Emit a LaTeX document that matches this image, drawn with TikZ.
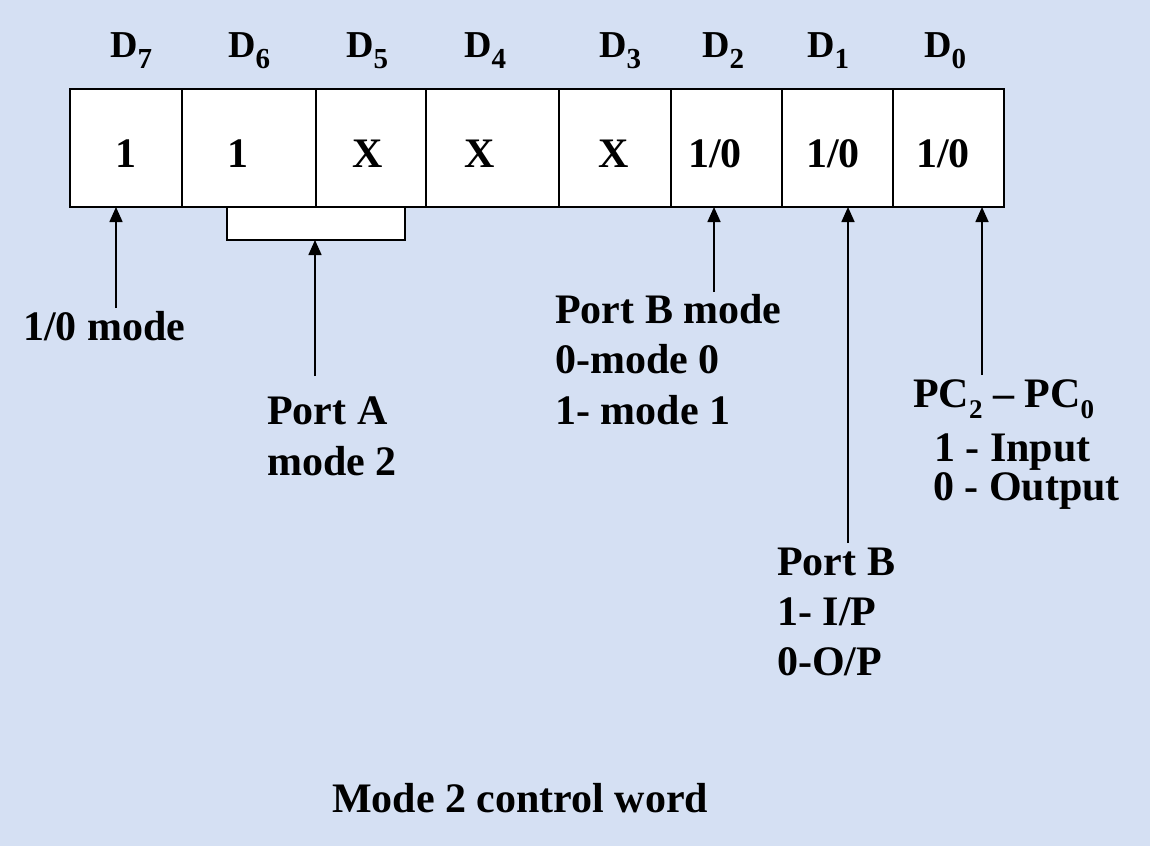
\documentclass[tikz,border=0pt]{standalone}
\usepackage{fontspec}
\setmainfont{Liberation Serif}
\usetikzlibrary{arrows.meta}
\definecolor{bgblue}{RGB}{213,224,243}
\newcommand\lab{\bfseries\fontsize{42}{50}\selectfont}
\newcommand\dlab{\bfseries\fontsize{38}{44}\selectfont}
\newcommand\subd[1]{\raisebox{-11pt}{\fontsize{29}{29}\selectfont #1}}
\newcommand\subpc[1]{\raisebox{-11pt}{\fontsize{27}{27}\selectfont #1}}
\tikzset{
  cell/.style={draw, fill=white, line width=1.6pt, minimum height=118pt, inner sep=0pt, outer sep=0pt, anchor=north west},
  celltext/.style={anchor=base, inner sep=0pt, font=\lab},
  dtext/.style={anchor=base west, inner sep=0pt, font=\dlab},
  lbl/.style={anchor=base west, inner sep=0pt, font=\lab},
  arr/.style={-{Triangle[length=15pt,width=13pt]}, line width=1.6pt}
}
\begin{document}
\begin{tikzpicture}[x=1pt,y=-1pt]
\useasboundingbox (0,0) rectangle (1150,846);
\fill[bgblue] (0,0) rectangle (1150,846);
% bit labels
\node[dtext] (d7) at (110,57) {D\subd{7}};
\node[dtext] (d6) at (228,57) {D\subd{6}};
\node[dtext] (d5) at (346,57) {D\subd{5}};
\node[dtext] (d4) at (464,57) {D\subd{4}};
\node[dtext] (d3) at (599,57) {D\subd{3}};
\node[dtext] (d2) at (702,57) {D\subd{2}};
\node[dtext] (d1) at (807,57) {D\subd{1}};
\node[dtext] (d0) at (924,57) {D\subd{0}};
% cells
\node[cell, minimum width=112pt] (c7) at (70,89) {};
\node[cell, minimum width=134pt] (c6) at (182,89) {};
\node[cell, minimum width=110pt] (c5) at (316,89) {};
\node[cell, minimum width=133pt] (c4) at (426,89) {};
\node[cell, minimum width=112pt] (c3) at (559,89) {};
\node[cell, minimum width=111pt] (c2) at (671,89) {};
\node[cell, minimum width=111pt] (c1) at (782,89) {};
\node[cell, minimum width=111pt] (c0) at (893,89) {};
% bracket under D6-D5
\node[draw, fill=white, line width=1.6pt, minimum width=178pt, minimum height=33pt, inner sep=0pt, outer sep=0pt, anchor=north west] (br) at (227,207) {};
% cell values
\node[celltext] (v7) at (126,167) {1};
\node[celltext] (v6) at (238,167) {1};
\node[celltext] (v5) at (368,167) {X};
\node[celltext] (v4) at (480,167) {X};
\node[celltext] (v3) at (614,167) {X};
\node[celltext] (v2) at (715,167) {1/0};
\node[celltext] (v1) at (833,167) {1/0};
\node[celltext] (v0) at (943,167) {1/0};
% descriptions
\node[lbl] (m7) at (23,340) {1/0 mode};
\node[lbl] (pa1) at (267,424) {Port A};
\node[lbl] (pa2) at (267,475) {mode 2};
\node[lbl] (pbm1) at (555,323) {Port B mode};
\node[lbl] (pbm2) at (555,373) {0-mode 0};
\node[lbl] (pbm3) at (555,424) {1- mode 1};
\node[lbl] (pb1) at (777,575) {Port B};
\node[lbl] (pb2) at (777,625) {1- I/P};
\node[lbl] (pb3) at (777,675) {0-O/P};
\node[lbl] (pc1) at (913,407) {PC\subpc{2} -- PC\subpc{0}};
\node[lbl] (pc2) at (934,461) {1 - Input};
\node[lbl] (pc3) at (933,500) {0 - Output};
\node[lbl] (title) at (332,812) {Mode 2 control word};
% arrow tails
\coordinate (t7) at (116,308);
\coordinate (ta) at (315,376);
\coordinate (t2) at (714,292);
\coordinate (t1) at (848,543);
\coordinate (t0) at (982,375);
\draw[arr] (t7) -- (t7 |- c7.south);
\draw[arr] (ta) -- (ta |- br.south);
\draw[arr] (t2) -- (t2 |- c2.south);
\draw[arr] (t1) -- (t1 |- c1.south);
\draw[arr] (t0) -- (t0 |- c0.south);
\end{tikzpicture}
\end{document}
